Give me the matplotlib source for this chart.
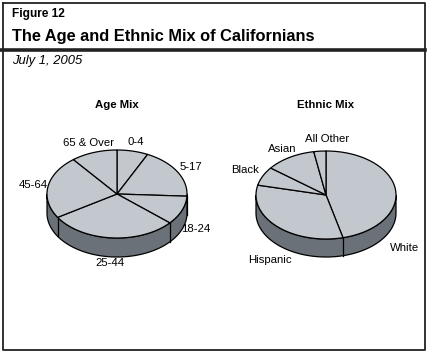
import matplotlib
matplotlib.use("Agg")
import matplotlib.pyplot as plt
import numpy as np

plt.rcParams['font.family'] = ['Liberation Sans', 'DejaVu Sans']

# data (percent of population)
age_labels = ["0-4", "5-17", "18-24", "25-44", "45-64", "65 & Over"]
age_values = [7.2, 18.6, 10.6, 29.7, 23.2, 10.7]

eth_labels = ["White", "Hispanic", "Black", "Asian", "All Other"]
eth_values = [46.1, 32.5, 6.9, 11.7, 2.8]

top_col = "#c3c8cf"
side_col = "#6b7178"

W, H = 429, 354
fig = plt.figure(figsize=(W / 100, H / 100), dpi=100)
ax = fig.add_axes([0, 0, 1, 1])
ax.set_xlim(0, W)
ax.set_ylim(H, 0)
ax.axis("off")


def pie3d(ax, values, labels, cx, cy, rx, ry, depth, title, override=None):
    override = override or {}
    vals = np.array(values, dtype=float)
    ang = np.radians(360 * np.cumsum(vals) / vals.sum())
    starts = np.radians(90) - np.concatenate([[0], ang[:-1]])
    ends = np.radians(90) - ang

    def pt(t):
        return cx + rx * np.cos(t), cy - ry * np.sin(t)

    # side of the disc (front half)
    t = np.linspace(np.pi, 2 * np.pi, 200)
    xs, ys = pt(t)
    px = np.concatenate([xs, xs[::-1]])
    py = np.concatenate([ys, ys[::-1] + depth])
    ax.fill(px, py, facecolor=side_col, edgecolor="black", lw=0.9, zorder=1)

    # slice edges on the side
    for a in starts:
        if np.sin(a) < -0.02:
            x0, y0 = pt(a)
            ax.plot([x0, x0], [y0, y0 + depth], color="black", lw=0.9, zorder=2)

    # top face wedges
    for s, e, lab in zip(starts, ends, labels):
        tt = np.linspace(s, e, 100)
        wx, wy = pt(tt)
        ax.fill(np.concatenate([[cx], wx]), np.concatenate([[cy], wy]),
                facecolor=top_col, edgecolor="black", lw=0.9, zorder=3)

        m = (s + e) / 2
        if lab in override:
            lx, ly = override[lab]
        else:
            lx = cx + 1.22 * rx * np.cos(m)
            ly = cy - 1.22 * ry * np.sin(m)
            if np.sin(m) < 0:
                ly += depth * 0.8
        ax.text(lx, ly, lab, ha="center", va="center", fontsize=8.2, zorder=4)

    ax.text(cx, 105, title, ha="center", va="center", fontsize=8.2,
            fontweight="bold")


pie3d(ax, age_values, age_labels, 117, 194, 70, 44, 19, "Age Mix")
pie3d(ax, eth_values, eth_labels, 326, 195, 70, 44, 18, "Ethnic Mix",
      override={"White": (405, 248), "Hispanic": (270, 260),
                "All Other": (327, 139), "Black": (245, 170)})

# frame and header
ax.plot([3, 3, 425, 425, 3], [3, 350, 350, 3, 3], color="#222222", lw=1.3)
ax.plot([0, 425], [49.5, 49.5], color="#222222", lw=2.6)

ax.text(12, 14, "Figure 12", fontsize=8.6, fontweight="bold", va="center")
ax.text(12, 36, "The Age and Ethnic Mix of Californians", fontsize=11.8,
        fontweight="bold", va="center")
ax.text(12, 61, "July 1, 2005", fontsize=9.4, style="italic", va="center")

fig.savefig("out.png", dpi=100)
